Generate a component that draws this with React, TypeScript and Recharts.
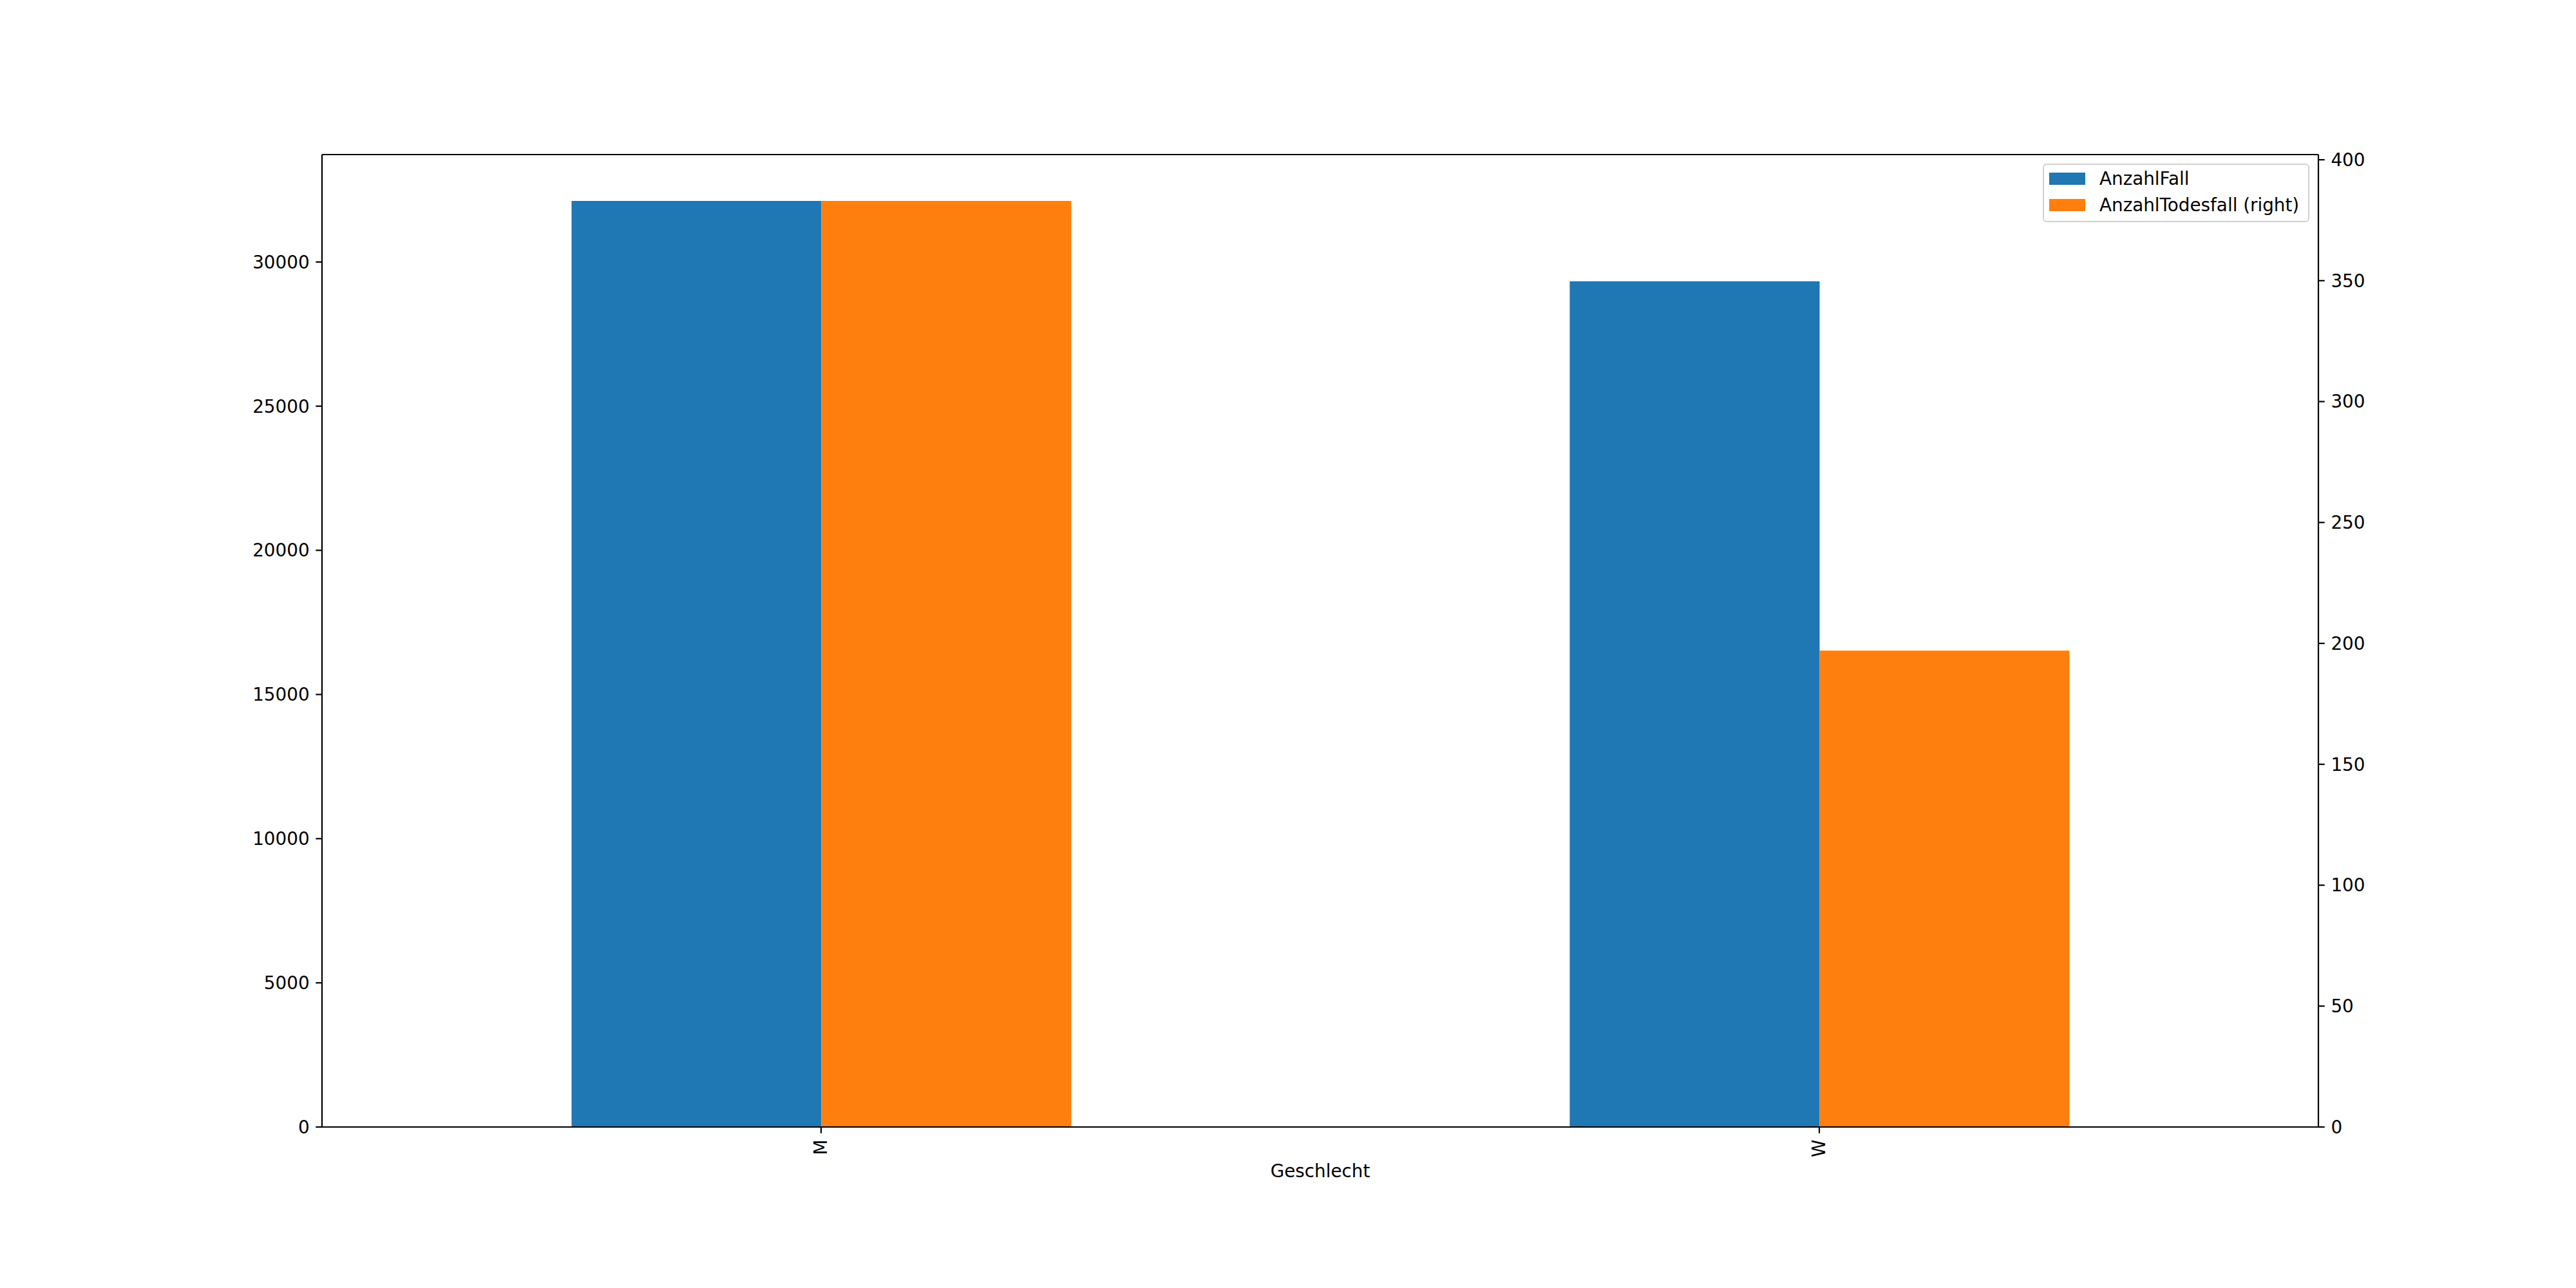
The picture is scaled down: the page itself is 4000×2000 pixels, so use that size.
import { BarChart, Bar, XAxis, YAxis, Legend, ReferenceLine } from 'recharts';

// data
const categories = ['M', 'W'];
const anzahlFall = [32120, 29330];
const anzahlTodesfall = [383, 197];
const leftTicks = [0, 5000, 10000, 15000, 20000, 25000, 30000];
const rightTicks = [0, 50, 100, 150, 200, 250, 300, 350, 400];

const data = categories.map((name, i) => ({
  name,
  AnzahlFall: anzahlFall[i],
  AnzahlTodesfall: anzahlTodesfall[i],
}));

// pandas/matplotlib pad the top by 5%
const leftMax = Math.max(...anzahlFall) * 1.05;
const rightMax = Math.max(...anzahlTodesfall) * 1.05;

const FONT = 'DejaVu Sans';
const FS = 27.8;
const LW = 2.2;
const TICK = 9.7;
const BLUE = '#1f77b4';
const ORANGE = '#ff7f0e';

const tickStyle = { fontFamily: FONT, fontSize: FS, fill: '#000' };

const RotatedTick = (props: any) => {
  const { x, y, payload } = props;
  return (
    <text
      x={x}
      y={y}
      transform={`rotate(-90, ${x}, ${y})`}
      textAnchor="end"
      dominantBaseline="central"
      fontFamily={FONT}
      fontSize={FS}
      fill="#000"
    >
      {payload.value}
    </text>
  );
};

const XLabel = (props: any) => {
  const vb = props.viewBox || {};
  return (
    <text
      x={vb.x + vb.width / 2}
      y={vb.y + 78}
      textAnchor="middle"
      fontFamily={FONT}
      fontSize={FS}
      fill="#000"
    >
      Geschlecht
    </text>
  );
};

const LegendBox = () => {
  const rows = [
    { label: 'AnzahlFall', color: BLUE, top: 14 },
    { label: 'AnzahlTodesfall (right)', color: ORANGE, top: 55 },
  ];
  return (
    <div
      style={{
        position: 'relative',
        width: 414,
        height: 91,
        boxSizing: 'border-box',
        border: '2px solid #d0d0d0',
        borderRadius: 6,
        background: 'rgba(255,255,255,0.8)',
        fontFamily: FONT,
        fontSize: FS,
        color: '#000',
      }}
    >
      {rows.map((r) => (
        <div key={r.label}>
          <div
            style={{
              position: 'absolute',
              left: 8,
              top: r.top - 2,
              width: 56,
              height: 19,
              background: r.color,
            }}
          />
          <div
            style={{
              position: 'absolute',
              left: 86,
              top: r.top - 2 + 9.5 - 17,
              height: 34,
              lineHeight: '34px',
              whiteSpace: 'nowrap',
            }}
          >
            {r.label}
          </div>
        </div>
      ))}
    </div>
  );
};

export default function App() {
  return (
    <div style={{ position: 'absolute', left: 0, top: 0, width: 4000, height: 2000, background: '#fff' }}>
      <BarChart
        width={4000}
        height={2000}
        data={data}
        margin={{ top: 240, right: 200, bottom: 100, left: 300 }}
        barCategoryGap="25%"
        barGap={0}
      >
        <XAxis
          dataKey="name"
          height={150}
          tick={<RotatedTick />}
          tickSize={TICK}
          tickMargin={TICK}
          axisLine={{ stroke: '#000', strokeWidth: LW }}
          tickLine={{ stroke: '#000', strokeWidth: LW }}
          interval={0}
          label={<XLabel />}
        />
        <YAxis
          yAxisId="left"
          orientation="left"
          width={200}
          domain={[0, leftMax]}
          ticks={leftTicks}
          interval={0}
          tick={tickStyle}
          tickSize={TICK}
          tickMargin={TICK}
          axisLine={{ stroke: '#000', strokeWidth: LW }}
          tickLine={{ stroke: '#000', strokeWidth: LW }}
        />
        <YAxis
          yAxisId="right"
          orientation="right"
          width={200}
          domain={[0, rightMax]}
          ticks={rightTicks}
          interval={0}
          tick={tickStyle}
          tickSize={TICK}
          tickMargin={TICK}
          axisLine={{ stroke: '#000', strokeWidth: LW }}
          tickLine={{ stroke: '#000', strokeWidth: LW }}
        />
        {/* top spine */}
        <ReferenceLine yAxisId="left" y={leftMax} stroke="#000" strokeWidth={LW} />
        <Legend
          layout="horizontal"
          verticalAlign="middle"
          align="center"
          content={<LegendBox />}
          wrapperStyle={{ left: 3172, top: 254, width: 414, height: 91 }}
        />
        <Bar yAxisId="left" dataKey="AnzahlFall" fill={BLUE} isAnimationActive={false} />
        <Bar yAxisId="right" dataKey="AnzahlTodesfall" name="AnzahlTodesfall (right)" fill={ORANGE} isAnimationActive={false} />
      </BarChart>
    </div>
  );
}
